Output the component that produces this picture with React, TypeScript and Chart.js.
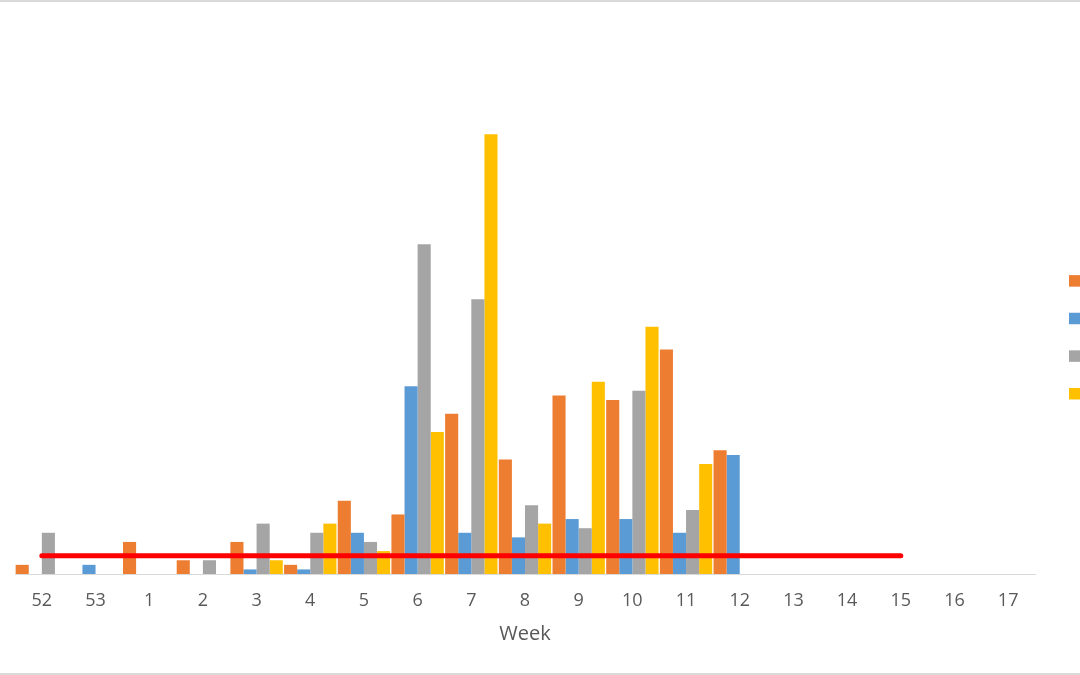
import { useEffect, useRef } from 'react';
import { Chart, registerables } from 'chart.js';

Chart.register(...registerables);

// Week labels along the x axis (year wraps from 52/53 into 1)
const weeks = ['52', '53', '1', '2', '3', '4', '5', '6', '7', '8', '9', '10', '11', '12', '13', '14', '15', '16', '17'];

// Weekly counts per series
const seriesOrange = [2, 0, 7, 3, 7, 2, 16, 13, 35, 25, 39, 38, 49, 27, null, null, null, null, null];
const seriesBlue = [0, 2, 0, 0, 1, 1, 9, 41, 9, 8, 12, 12, 9, 26, null, null, null, null, null];
const seriesGray = [9, 0, 0, 3, 11, 9, 7, 72, 60, 15, 10, 40, 14, null, null, null, null, null, null];
const seriesYellow = [0, 0, 0, 0, 3, 11, 5, 31, 96, 11, 42, 54, 24, null, null, null, null, null, null];

// Reference threshold drawn as a flat red line through week 15
const thresholdLine = [4, 4, 4, 4, 4, 4, 4, 4, 4, 4, 4, 4, 4, 4, 4, 4, 4, null, null];

const COLORS = {
  orange: '#ED7D31',
  blue: '#5B9BD5',
  gray: '#A5A5A5',
  yellow: '#FFC000',
  red: '#FF0000',
  axis: '#D9D9D9',
  text: '#595959',
};

const FONT = '"Open Sans", "Liberation Sans", sans-serif';

// Colour swatches stacked at the right edge for each bar series
const swatchLegend = {
  id: 'swatchLegend',
  afterDraw(chart: any) {
    const { ctx, chartArea } = chart;
    const bars = chart.data.datasets.filter((d: any) => d.type !== 'line');
    const size = 11.5;
    const gap = 37.6;
    const x = chart.width - 11;
    const mid = (chartArea.top + chartArea.bottom) / 2 - 7.7;
    ctx.save();
    bars.forEach((d: any, i: number) => {
      const cy = mid + (i - (bars.length - 1) / 2) * gap;
      ctx.fillStyle = d.backgroundColor;
      ctx.fillRect(x, cy - size / 2, size, size);
    });
    ctx.restore();
  },
};

export default function App() {
  const canvasRef = useRef<HTMLCanvasElement | null>(null);

  useEffect(() => {
    const canvas = canvasRef.current;
    if (!canvas) return;

    const barDefaults = {
      type: 'bar' as const,
      borderWidth: 0,
      categoryPercentage: 0.976,
      barPercentage: 1,
      order: 1,
    };

    const chart = new Chart(canvas, {
      type: 'bar',
      data: {
        labels: weeks,
        datasets: [
          { ...barDefaults, label: 'Series 1', data: seriesOrange, backgroundColor: COLORS.orange },
          { ...barDefaults, label: 'Series 2', data: seriesBlue, backgroundColor: COLORS.blue },
          { ...barDefaults, label: 'Series 3', data: seriesGray, backgroundColor: COLORS.gray },
          { ...barDefaults, label: 'Series 4', data: seriesYellow, backgroundColor: COLORS.yellow },
          {
            type: 'line' as const,
            label: 'Threshold',
            data: thresholdLine,
            borderColor: COLORS.red,
            backgroundColor: COLORS.red,
            borderWidth: 5,
            borderCapStyle: 'round',
            pointRadius: 0,
            pointHoverRadius: 0,
            fill: false,
            order: 0,
          } as any,
        ],
      },
      options: {
        responsive: false,
        animation: false,
        layout: { padding: { left: 15, right: 45, top: 116, bottom: 0 } },
        plugins: {
          legend: { display: false },
          tooltip: { enabled: false },
          title: { display: false },
        },
        scales: {
          x: {
            grid: { display: false, drawTicks: false },
            border: { display: true, color: COLORS.axis, width: 1 },
            ticks: {
              color: COLORS.text,
              padding: 16,
              maxRotation: 0,
              autoSkip: false,
              font: { family: FONT, size: 18 },
            },
            title: {
              display: true,
              text: 'Week',
              color: COLORS.text,
              font: { family: FONT, size: 20 },
              padding: { top: 0, bottom: 29 },
            },
            afterFit: (scale: any) => {
              scale.height = 101;
            },
          },
          y: {
            display: false,
            min: 0,
            max: 100,
          },
        },
      },
      plugins: [swatchLegend],
    });

    return () => chart.destroy();
  }, []);

  return (
    <div
      style={{
        position: 'absolute',
        left: 0,
        top: 0,
        width: 1080,
        height: 675,
        boxSizing: 'border-box',
        borderTop: '2px solid #D9D9D9',
        borderBottom: '2px solid #D9D9D9',
        background: '#FFFFFF',
        overflow: 'hidden',
      }}
    >
      <canvas
        ref={canvasRef}
        width={1080}
        height={675}
        style={{ position: 'absolute', left: 0, top: -2, width: 1080, height: 675 }}
      />
    </div>
  );
}
